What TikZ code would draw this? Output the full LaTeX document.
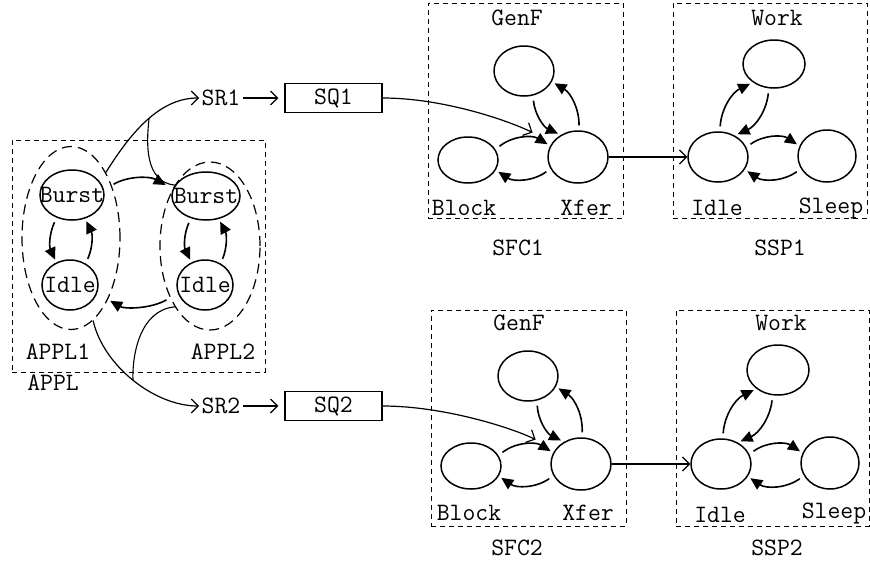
\documentclass[tikz,border=0pt]{standalone}
\usepackage{fontspec}
\usetikzlibrary{arrows.meta, shapes.geometric}
\tikzset{
  every picture/.style={line width=1.1pt},
  txt/.style={font=\ttfamily\fontsize{25}{30}\selectfont, inner sep=2pt},
  state/.style={draw, ellipse, line width=1.5pt, inner sep=0pt, minimum width=60, minimum height=50},
  group/.style={draw, ellipse, dash pattern=on 10pt off 6pt, line width=1.2pt, inner sep=0pt},
  frame/.style={draw, dash pattern=on 5pt off 4pt, line width=1pt, inner sep=0pt},
  queue/.style={txt, draw, line width=1.3pt, minimum width=97, minimum height=29},
  trans/.style={-{Triangle[length=12pt, width=11pt]}, line width=1.6pt, shorten <=5pt, shorten >=3pt},
  link/.style={-{Straight Barb[length=7pt, width=14pt]}, line width=1.2pt},
}

\begin{document}
\begin{tikzpicture}[x=1pt, y=-1pt]
  \useasboundingbox (0,0) rectangle (870,573);

  % application
  \node[frame, minimum width=253, minimum height=232] (appl) at (138.5,256) {};
  \node[txt] (appllbl) at (53,383) {APPL};
  \node[group, minimum width=98, minimum height=183] (appl1) at (71,238) {};
  \node[group, minimum width=100, minimum height=168] (appl2) at (210,246) {};
  \node[txt] (appllbl1) at (58,352) {APPL1};
  \node[txt] (appllbl2) at (223,352) {APPL2};
  \node[state, minimum width=64] (burst1) at (72,195) {};
  \node[state, minimum width=56] (idle1) at (70,285) {};
  \node[state, minimum width=68, minimum height=48] (burst2) at (206,196) {};
  \node[state, minimum width=56] (idle2) at (205,285) {};
  \node[txt] (burstlbl1) at (burst1) {Burst};
  \node[txt] (idlelbl1) at (idle1) {Idle};
  \node[txt] (burstlbl2) at (burst2) {Burst};
  \node[txt] (idlelbl2) at (idle2) {Idle};
  \draw[trans] (burst1.236) to[bend right=25] (idle1.121);
  \draw[trans] (idle1.54) to[bend right=25] (burst1.299);
  \draw[trans] (burst2.236) to[bend right=25] (idle2.121);
  \draw[trans] (idle2.54) to[bend right=25] (burst2.299);
  \draw[trans, shorten <=11pt, shorten >=8pt] (burst1.9) to[bend left=30] (burst2.168);
  \draw[trans, shorten <=13pt, shorten >=15pt] (idle2.197) to[bend left=30] (idle1.343);

  % requests and queues
  \node[txt] (sr1) at (221,98) {SR1};
  \node[txt] (sr2) at (221,406) {SR2};
  \node[queue] (sq1) at (333.5,98) {SQ1};
  \node[queue] (sq2) at (333.5,406) {SQ2};
  \draw[link] (appl1.62) .. controls +(28,-45) and +(-37,0) .. coordinate[pos=0.5] (join1) (sr1.west);
  \draw (appl2.120) .. controls +(-30,-3) and +(-3,25) .. (join1);
  \draw[link] (appl1.-75) .. controls +(10,45) and +(-45,0) .. coordinate[pos=0.5] (join2) (sr2.west);
  \draw (appl2.-120) .. controls +(-35,3) and +(-1,-25) .. (join2);
  \draw[link, shorten >=6pt] (sr1) -- (sq1);
  \draw[link, shorten >=6pt] (sr2) -- (sq2);

  % SFC1 and SSP1
  \node[frame, minimum width=195, minimum height=215] (sfc1) at (525.5,110.5) {};
  \node[state] (genf1) at (524,71) {};
  \node[state, minimum height=46] (block1) at (468,160) {};
  \node[state, minimum height=52] (xfer1) at (578,157) {};
  \node[txt] (genflbl1) at (517,18) {GenF};
  \node[txt] (blocklbl1) at (464,208) {Block};
  \node[txt] (xferlbl1) at (586,208) {Xfer};
  \node[txt] (sfclbl1) at (518,248) {SFC1};
  \draw[trans] (genf1.290) to[bend right=30] (xfer1.128);
  \draw[trans] (xfer1.88) to[bend right=30] (genf1.339);
  \draw[trans] (block1.21) to[bend left=35] (xfer1.158);
  \draw[trans] (xfer1.203) to[bend left=35] (block1.340);

  \node[frame, minimum width=194, minimum height=215] (ssp1) at (770,110.5) {};
  \node[state, minimum width=62, minimum height=48] (work1) at (774,64) {};
  \node[state] (sidle1) at (718,157) {};
  \node[state, minimum width=58, minimum height=52] (sleep1) at (827,156) {};
  \node[txt] (worklbl1) at (777,18) {Work};
  \node[txt] (sidlelbl1) at (717,208) {Idle};
  \node[txt] (sleeplbl1) at (831,208) {Sleep};
  \node[txt] (ssplbl1) at (780,248) {SSP1};
  \draw[trans] (sidle1.86) to[bend left=30] (work1.221);
  \draw[trans] (work1.258) to[bend left=30] (sidle1.52);
  \draw[trans] (sidle1.19) to[bend left=35] (sleep1.160);
  \draw[trans] (sleep1.206) to[bend left=35] (sidle1.335);

  \draw[link, shorten >=22pt] (sq1.east) .. controls +(60,0) and +(-45,-22) .. (xfer1.150);
  \draw[link] (xfer1) -- (sidle1);

  % SFC2 and SSP2
  \node[frame, minimum width=195, minimum height=216] (sfc2) at (528.5,418) {};
  \node[state] (genf2) at (528,376) {};
  \node[state, minimum height=46] (block2) at (471,466) {};
  \node[state, minimum height=52] (xfer2) at (581,464) {};
  \node[txt] (genflbl2) at (519,323) {GenF};
  \node[txt] (blocklbl2) at (469,513) {Block};
  \node[txt] (xferlbl2) at (588,513) {Xfer};
  \node[txt] (sfclbl2) at (517,548) {SFC2};
  \draw[trans] (genf2.290) to[bend right=30] (xfer2.128);
  \draw[trans] (xfer2.88) to[bend right=30] (genf2.339);
  \draw[trans] (block2.21) to[bend left=35] (xfer2.158);
  \draw[trans] (xfer2.203) to[bend left=35] (block2.340);

  \node[frame, minimum width=193, minimum height=216] (ssp2) at (772.5,418) {};
  \node[state, minimum width=62, minimum height=50] (work2) at (778,370) {};
  \node[state] (sidle2) at (721,464) {};
  \node[state, minimum width=58, minimum height=52] (sleep2) at (830,463) {};
  \node[txt] (worklbl2) at (781,323) {Work};
  \node[txt] (sidlelbl2) at (720,515) {Idle};
  \node[txt] (sleeplbl2) at (834,513) {Sleep};
  \node[txt] (ssplbl2) at (777,548) {SSP2};
  \draw[trans] (sidle2.86) to[bend left=30] (work2.221);
  \draw[trans] (work2.258) to[bend left=30] (sidle2.52);
  \draw[trans] (sidle2.19) to[bend left=35] (sleep2.160);
  \draw[trans] (sleep2.206) to[bend left=35] (sidle2.335);

  \draw[link, shorten >=22pt] (sq2.east) .. controls +(60,0) and +(-45,-22) .. (xfer2.150);
  \draw[link] (xfer2) -- (sidle2);
\end{tikzpicture}
\end{document}
